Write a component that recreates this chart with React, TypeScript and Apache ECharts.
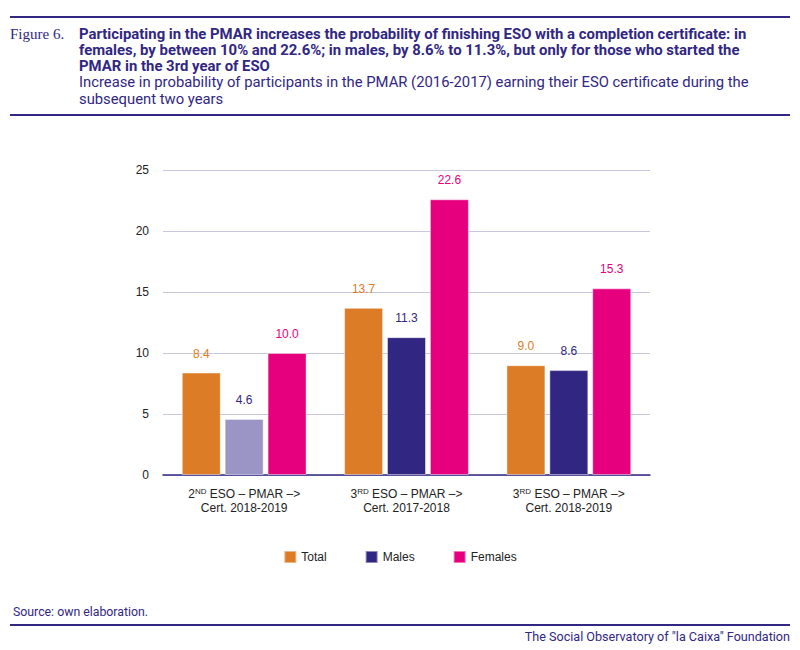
import { useRef, useEffect } from "react"
import * as echarts from "echarts"

const ordinals = ["2", "3", "3"]
const suffixes = ["ND", "RD", "RD"]
const certYears = ["2018-2019", "2017-2018", "2018-2019"]
const categories = ordinals.map((o, i) => `${o}${suffixes[i]} ESO – PMAR –> Cert. ${certYears[i]}`)

const seriesNames = ["Total", "Males", "Females"]
const totalValues = [8.4, 13.7, 9.0]
const maleValues = [4.6, 11.3, 8.6]
const femaleValues = [10.0, 22.6, 15.3]

const yTicks = [0, 5, 10, 15, 20, 25]

const titleLines = [
  "Participating in the PMAR increases the probability of finishing ESO with a completion certificate: in",
  "females, by between 10% and 22.6%; in males, by 8.6% to 11.3%, but only for those who started the",
  "PMAR in the 3rd year of ESO",
]
const subtitleLines = [
  "Increase in probability of participants in the PMAR (2016-2017) earning their ESO certificate during the",
  "subsequent two years",
]

const NAVY = "#312783"
const ORANGE = "#dd7c27"
const MAGENTA = "#e6007e"
const LIGHT_PURPLE = "#9a95c4"
const FONT = "'Liberation Sans', Arial, sans-serif"

export default function App() {
  const chartRef = useRef<HTMLDivElement>(null)

  useEffect(() => {
    document.body.style.margin = "0"
    if (!chartRef.current) return
    const chart = echarts.init(chartRef.current, null, { renderer: "svg" })

    const colors = [ORANGE, NAVY, MAGENTA]
    const valueSets = [totalValues, maleValues, femaleValues]

    // title and subtitle as one block of rich text so the lines sit tight
    const headerBlock = [
      ...titleLines.map((t) => `{b|${t}}`),
      ...subtitleLines.map((t) => `{r|${t}}`),
    ].join("\n")

    chart.setOption({
      animation: false,
      textStyle: { fontFamily: FONT },
      grid: { left: 163, right: 150, top: 170, bottom: 175 },
      legend: {
        data: seriesNames,
        left: "center",
        top: 545,
        icon: "rect",
        itemWidth: 12,
        itemHeight: 12,
        itemGap: 38,
        textStyle: { fontSize: 12, color: "#222", fontFamily: FONT },
      },
      xAxis: {
        type: "category",
        data: categories,
        axisLine: { lineStyle: { color: NAVY, width: 1.5 } },
        axisTick: { show: false },
        axisLabel: {
          interval: 0,
          hideOverlap: false,
          margin: 12,
          formatter: (_: string, idx: number) =>
            `{n|${ordinals[idx]}}{sup|${suffixes[idx]}}{n| ESO – PMAR –>}\n{n|Cert. ${certYears[idx]}}`,
          rich: {
            n: { fontSize: 12, color: "#222", fontFamily: FONT, lineHeight: 14 },
            sup: { fontSize: 8, color: "#222", fontFamily: FONT, verticalAlign: "top", padding: [0, 0, 6, 0] },
          },
        },
      },
      yAxis: {
        type: "value",
        min: yTicks[0],
        max: yTicks[yTicks.length - 1],
        interval: 5,
        axisLine: { show: false },
        axisTick: { show: false },
        axisLabel: { fontSize: 12, color: "#222", margin: 14 },
        splitLine: { lineStyle: { color: "#c9c6e0", width: 1 } },
      },
      series: seriesNames.map((name, s) => ({
        name,
        type: "bar",
        barWidth: 39,
        barGap: "10%",
        itemStyle: { color: colors[s], borderColor: "rgba(255,255,255,0.45)", borderWidth: 1 },
        label: {
          show: true,
          position: "top",
          distance: 13,
          fontSize: 12,
          color: colors[s],
          formatter: (p: any) => Number(p.value).toFixed(1),
        },
        data: valueSets[s].map((v, i) =>
          s === 1 && i === 0 ? { value: v, itemStyle: { color: LIGHT_PURPLE } } : v
        ),
      })),
      graphic: [
        { type: "rect", shape: { x: 10, y: 16, width: 780, height: 2 }, style: { fill: NAVY } },
        { type: "rect", shape: { x: 10, y: 114, width: 780, height: 2 }, style: { fill: NAVY } },
        { type: "rect", shape: { x: 10, y: 624, width: 780, height: 2 }, style: { fill: NAVY } },
        {
          type: "text",
          left: 10,
          top: 26,
          style: { text: "Figure 6.", font: "15px 'Liberation Serif', serif", fill: NAVY },
        },
        {
          type: "text",
          left: 79,
          top: 26,
          style: {
            text: headerBlock,
            rich: {
              b: { fontFamily: "Roboto, sans-serif", fontSize: 14.9, fontWeight: "bold", fill: NAVY, lineHeight: 16.3 },
              r: { fontFamily: "Roboto, sans-serif", fontSize: 14.8, fill: NAVY, lineHeight: 16.3 },
            },
          },
        },
        {
          type: "text",
          left: 13,
          top: 606,
          style: { text: "Source: own elaboration.", font: "12.3px Roboto, sans-serif", fill: NAVY },
        },
        {
          type: "text",
          right: 10,
          top: 630,
          style: { text: 'The Social Observatory of "la Caixa" Foundation', font: "12.6px Roboto, sans-serif", fill: NAVY },
        },
      ],
    })

    const handleResize = () => chart.resize()
    window.addEventListener("resize", handleResize)
    return () => {
      window.removeEventListener("resize", handleResize)
      chart.dispose()
    }
  }, [])

  return <div ref={chartRef} style={{ width: "800px", height: "650px" }} />
}
